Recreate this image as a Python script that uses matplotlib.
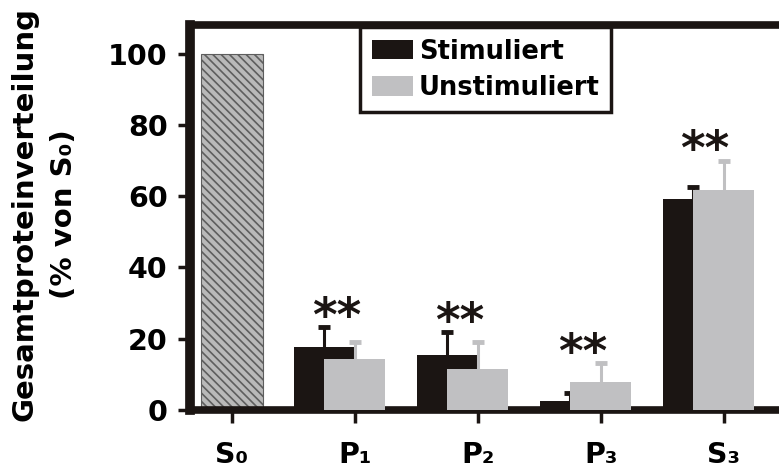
import numpy as np
import matplotlib.pyplot as plt

plt.rcParams['font.family'] = ['DejaVu Sans']
plt.rcParams['font.weight'] = 'bold'
plt.rcParams['hatch.linewidth'] = 1.2

groups = ["S\u2080", "P\u2081", "P\u2082", "P\u2083", "S\u2083"]
s0_value = 100
stim = [17.7, 15.4, 2.5, 59.3]
stim_err = [5.5, 6.4, 2.4, 3.3]
unstim = [14.2, 11.4, 7.9, 61.7]
unstim_err = [5.0, 7.6, 5.2, 8.2]
stars = ["**", "**", "**", "**"]

black = "#1b1513"
grey = "#c0c0c2"

fig = plt.figure(figsize=(7.79, 4.68), dpi=100)
ax = fig.add_axes([0.2439, 0.1239, 0.756, 0.8226])

x = np.arange(len(groups))
xp = x[1:]

# S0 reference bar, hatched
ax.bar(x[0], s0_value, width=0.5, color="#b9b9b9", edgecolor="#5e5e5e",
       hatch="\\\\\\\\", linewidth=0.8, zorder=2)

# upper-only error bars: stem + cap marker
def up_err(xs, vals, errs, col, z):
    tops = np.array(vals) + np.array(errs)
    ax.vlines(xs, vals, tops, color=col, linewidth=2.2, zorder=z)
    ax.plot(xs, tops, ls="none", marker="_", markersize=8, mew=3.5,
            color=col, zorder=z)

ax.bar(xp - 0.25, stim, width=0.49, color=black, zorder=2, label="Stimuliert")
up_err(xp - 0.25, stim, stim_err, black, 3)
ax.bar(xp, unstim, width=0.5, color=grey, zorder=4, label="Unstimuliert")
up_err(xp, unstim, unstim_err, grey, 5)

tops = np.maximum(np.array(stim) + stim_err, np.array(unstim) + unstim_err)
for xi, t, s in zip(xp, tops, stars):
    ax.text(xi - 0.15, t + 2.5, s, ha="center", va="center", fontsize=34,
            fontweight="bold", color=black, zorder=6)

ax.set_xlim(-0.34, 4.45)
ax.set_ylim(0, 108)
ax.set_xticks(x)
ax.set_xticklabels(groups)
ax.set_yticks([0, 20, 40, 60, 80, 100])
ax.tick_params(axis="both", labelsize=20.5, width=2.5, length=9, color=black)
ax.tick_params(axis="y", pad=7)
ax.tick_params(axis="x", pad=13)

for side in ["left", "bottom", "top"]:
    ax.spines[side].set_linewidth(5.5)
    ax.spines[side].set_color(black)
ax.spines["left"].set_linewidth(7)
ax.spines["right"].set_visible(False)

ax.set_ylabel("Gesamtproteinverteilung\n(% von S\u2080)", fontsize=21,
              fontweight="bold", linespacing=1.55)
ax.yaxis.set_label_coords(-0.19, 0.51)

leg = ax.legend(loc="upper left", bbox_to_anchor=(0.2886, 0.995),
                borderaxespad=0, fontsize=18.5, frameon=True, fancybox=False,
                framealpha=1, handlelength=1.6, handleheight=0.8,
                handletextpad=0.25, labelspacing=0.4, borderpad=0.45)
leg.get_frame().set_edgecolor(black)
leg.get_frame().set_linewidth(2.5)

fig.savefig("out.png", dpi=100)
